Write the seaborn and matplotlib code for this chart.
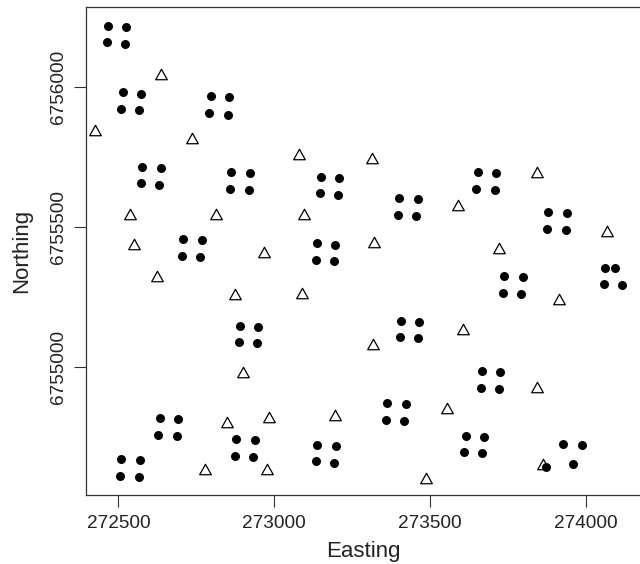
import numpy as np
import pandas as pd
import matplotlib
matplotlib.use("Agg")
import matplotlib.pyplot as plt
from matplotlib.path import Path
import seaborn as sns

# Sampled plot locations (filled circles, clusters of four)
circle_east = [272466, 272524, 272462, 272520,
               272514, 272572, 272509, 272567,
               272796, 272855, 272792, 272851,
               272577, 272636, 272573, 272631,
               272862, 272921, 272859, 272918,
               273149, 273208, 273146, 273204,
               272708, 272767, 272704, 272763,
               273137, 273196, 273133, 273192,
               273402, 273461, 273398, 273456,
               273653, 273712, 273649, 273708,
               273880, 273939, 273876, 273935,
               273739, 273798, 273735, 273793,
               274061, 274094, 274058, 274117,
               272891, 272949, 272887, 272946,
               273407, 273466, 273403, 273462,
               273667, 273726, 273663, 273722,
               273363, 273423, 273359, 273418,
               272633, 272691, 272628, 272687,
               272509, 272568, 272505, 272565,
               272878, 272938, 272873, 272933,
               273137, 273197, 273134, 273193,
               273614, 273673, 273609, 273668,
               273928, 273987, 273872, 273960]
circle_north = [6756218, 6756214, 6756159, 6756154,
                6755980, 6755975, 6755920, 6755916,
                6755966, 6755962, 6755905, 6755901,
                6755714, 6755711, 6755655, 6755651,
                6755696, 6755693, 6755636, 6755632,
                6755678, 6755673, 6755619, 6755614,
                6755455, 6755452, 6755395, 6755392,
                6755441, 6755436, 6755380, 6755377,
                6755604, 6755599, 6755543, 6755538,
                6755696, 6755693, 6755636, 6755632,
                6755553, 6755550, 6755493, 6755489,
                6755325, 6755320, 6755264, 6755261,
                6755354, 6755352, 6755295, 6755291,
                6755147, 6755143, 6755087, 6755084,
                6755164, 6755161, 6755105, 6755102,
                6754985, 6754980, 6754925, 6754920,
                6754870, 6754867, 6754811, 6754807,
                6754816, 6754812, 6754755, 6754752,
                6754672, 6754668, 6754611, 6754607,
                6754742, 6754738, 6754682, 6754679,
                6754721, 6754717, 6754662, 6754658,
                6754753, 6754749, 6754694, 6754691,
                6754725, 6754722, 6754643, 6754654]

# Other locations (open triangles)
tri_east = [272637, 272426, 272735, 273080, 272536, 272814, 273097, 272550,
            272967, 272625, 272873, 273090, 272900, 272848, 272983, 273194,
            272777, 272978, 273315, 273320, 273318, 273591, 273607, 273554,
            273487, 273722, 273843, 273844, 273913, 273863, 274068]
tri_north = [6756045, 6755845, 6755818, 6755759, 6755545, 6755545, 6755547, 6755438,
             6755409, 6755324, 6755260, 6755263, 6754981, 6754802, 6754820, 6754826,
             6754636, 6754636, 6755744, 6755444, 6755080, 6755578, 6755136, 6754852,
             6754602, 6755426, 6755695, 6754929, 6755242, 6754652, 6755486]

x_ticks = [272500, 273000, 273500, 274000]
y_ticks = [6755000, 6755500, 6756000]

circles = pd.DataFrame({"Easting": circle_east, "Northing": circle_north})
triangles = pd.DataFrame({"Easting": tri_east, "Northing": tri_north})

sns.set_style("white")
plt.rcParams["font.family"] = ["Liberation Sans", "DejaVu Sans"]

fig = plt.figure(figsize=(6.4, 5.64), dpi=100)
ax = fig.add_axes([86 / 640, (564 - 495) / 564, (640 - 86) / 640, (495 - 7.3) / 564])

# open triangle, a bit wider than tall like R's pch 2
tri_marker = Path([(0, 0.9), (-1, -0.9), (1, -0.9), (0, 0.9)],
                  [Path.MOVETO, Path.LINETO, Path.LINETO, Path.CLOSEPOLY])
sns.scatterplot(data=triangles, x="Easting", y="Northing", marker=tri_marker, s=70,
                facecolor="white", edgecolor="black", linewidth=0.9, ax=ax, zorder=2)
sns.scatterplot(data=circles, x="Easting", y="Northing", marker="o", s=42,
                color="black", edgecolor="black", linewidth=0, ax=ax, zorder=3)

ax.set_xlim(272396, 274174)
ax.set_ylim(6754542, 6756284)

ax.set_xticks(x_ticks)
ax.set_xticklabels([str(v) for v in x_ticks], fontsize=13.7, color="#222222")
ax.set_yticks(y_ticks)
ax.set_yticklabels([str(v) for v in y_ticks], fontsize=13.7, color="#222222",
                   rotation=90, va="center")
ax.tick_params(axis="both", direction="out", length=8.5, width=0.8, color="#333333")
ax.tick_params(axis="x", pad=6, bottom=True)
ax.tick_params(axis="y", pad=5, left=True)

ax.set_xlabel("Easting", fontsize=16, color="#222222", labelpad=6.5)
ax.set_ylabel("Northing", fontsize=16, color="#222222", labelpad=13)

for side in ["left", "bottom", "top"]:
    ax.spines[side].set_visible(True)
    ax.spines[side].set_color("#333333")
    ax.spines[side].set_linewidth(0.9)
ax.spines["right"].set_visible(False)

fig.savefig("out.png", dpi=100)
